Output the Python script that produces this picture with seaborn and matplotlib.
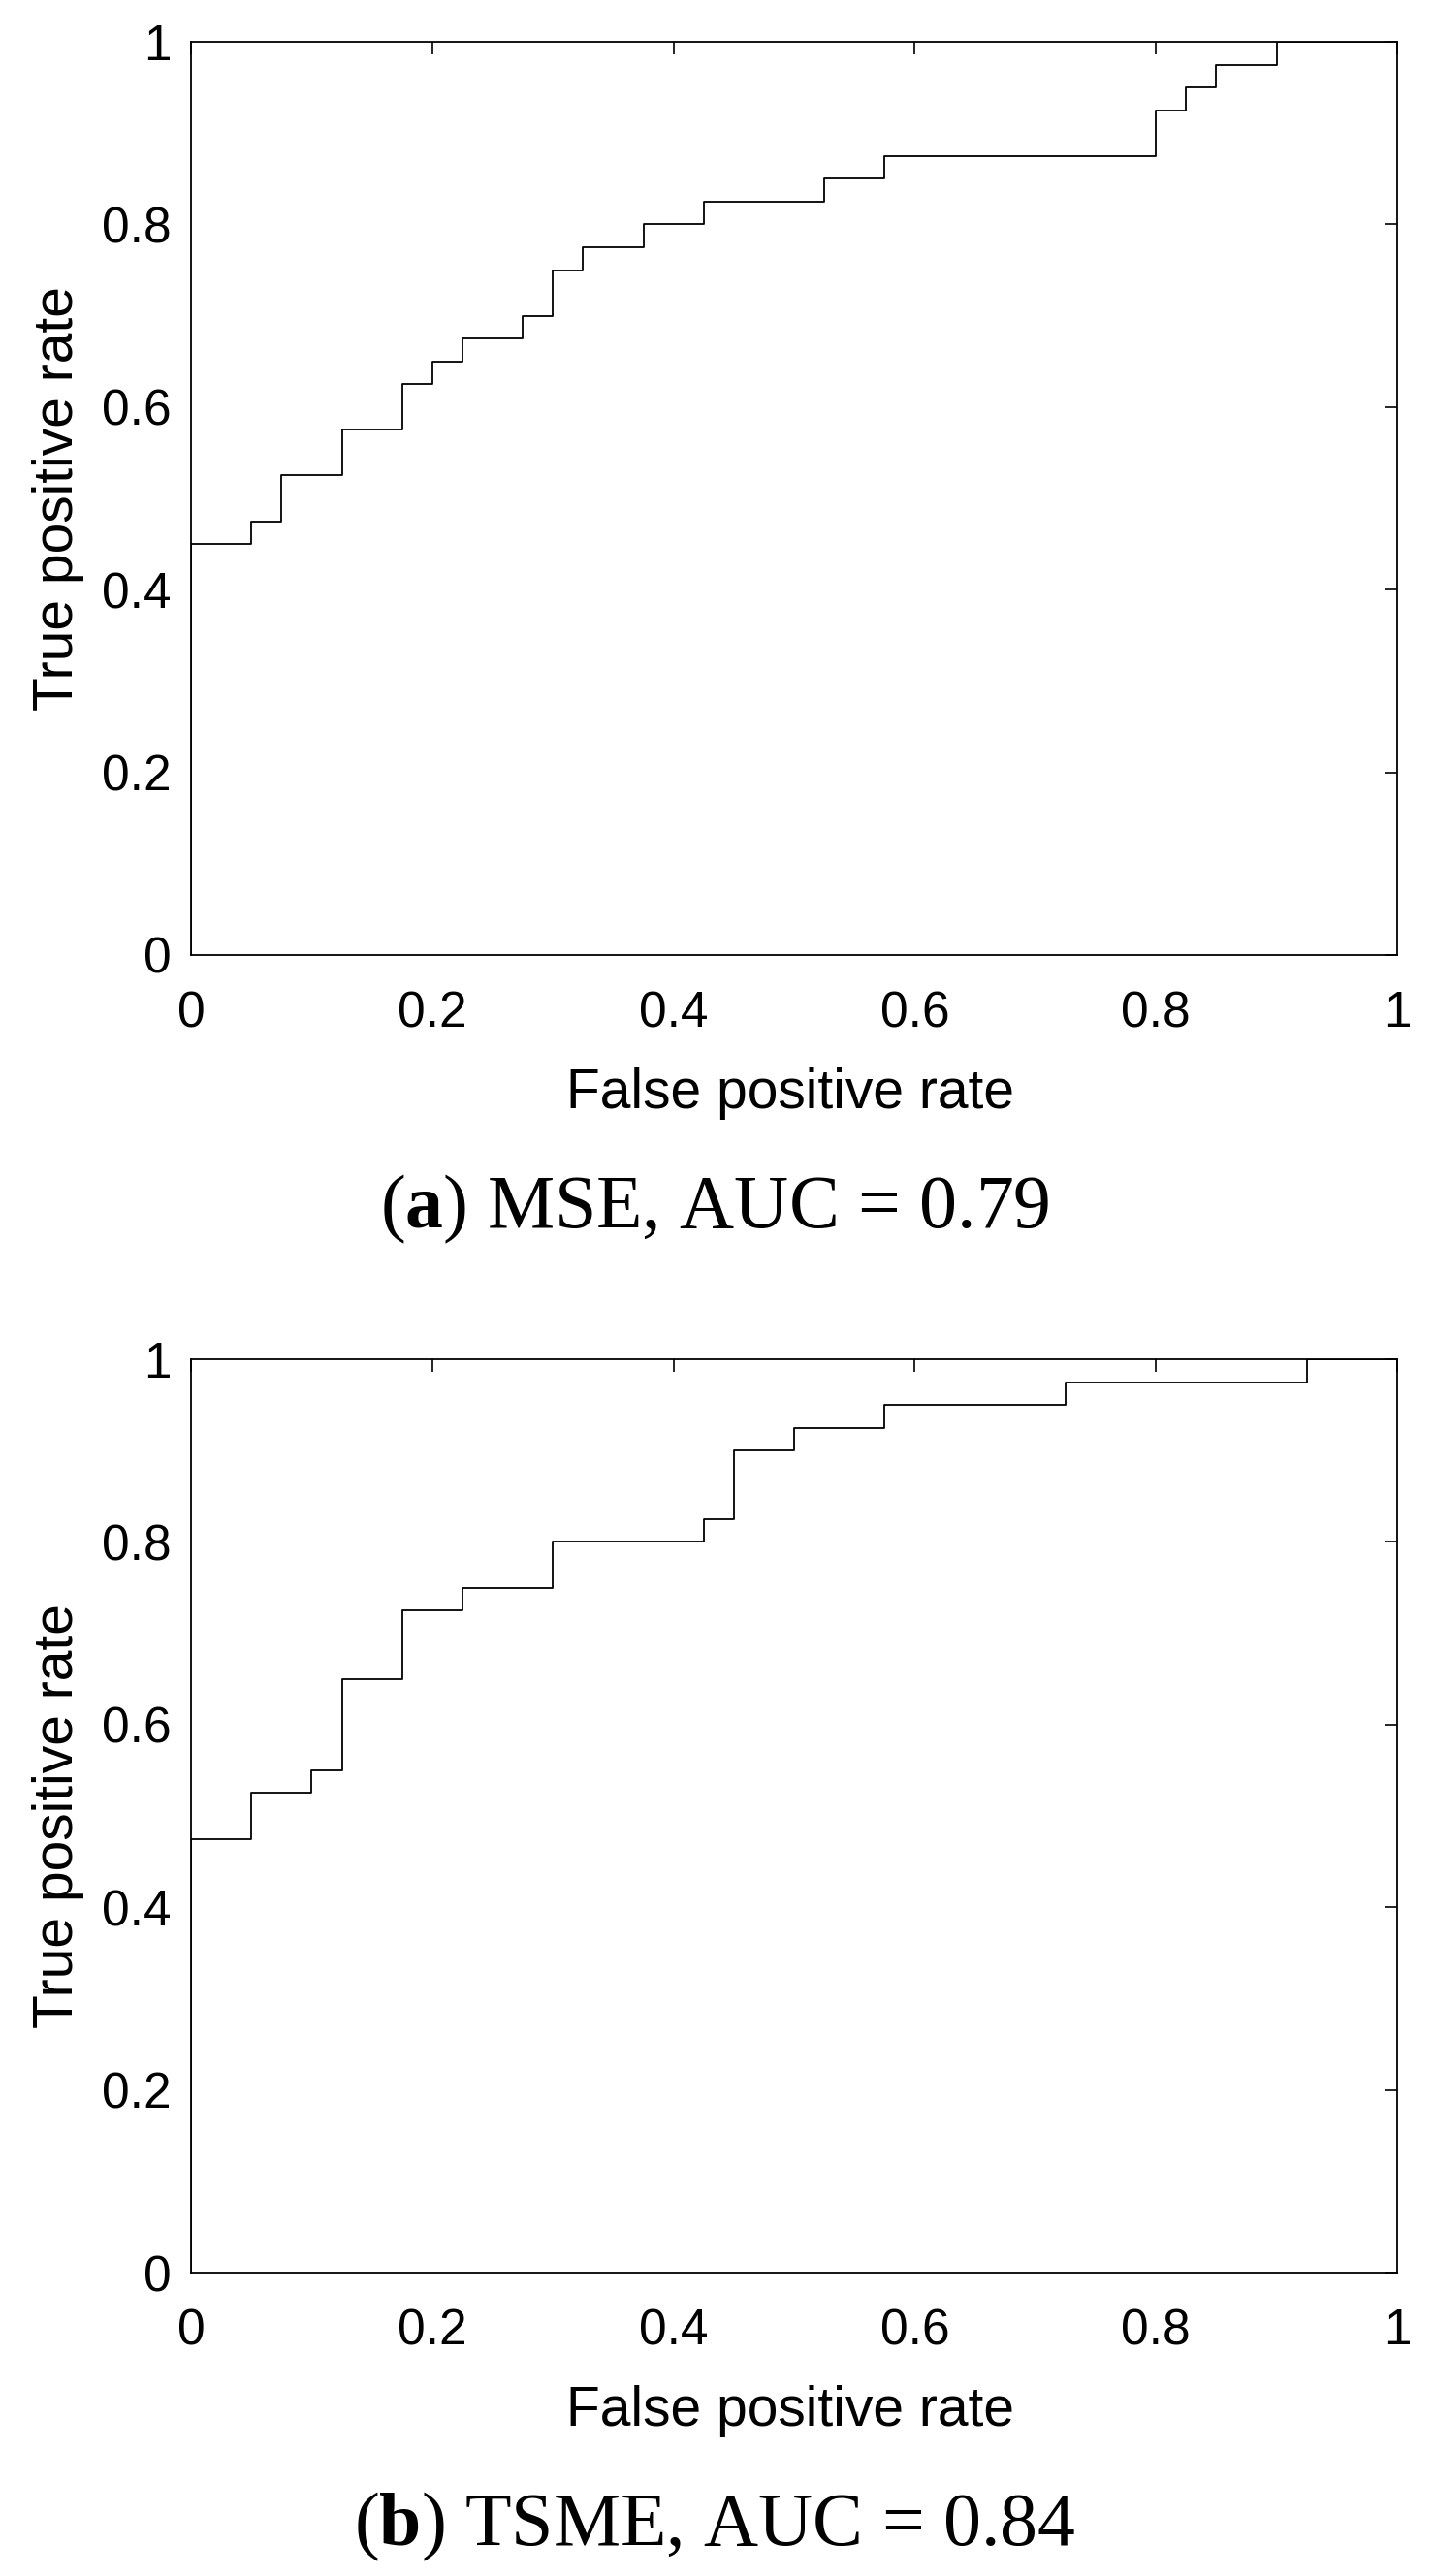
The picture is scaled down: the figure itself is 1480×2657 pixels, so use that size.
import pandas as pd
import matplotlib.pyplot as plt
import seaborn as sns

# ROC curve vertices (start of each horizontal step)
fpr_mse = [0, 0, 0.05, 0.075, 0.125, 0.175, 0.2, 0.225, 0.275, 0.3, 0.325,
           0.375, 0.425, 0.525, 0.575, 0.8, 0.825, 0.85, 0.9, 1.0]
tpr_mse = [0, 0.45, 0.475, 0.525, 0.575, 0.625, 0.65, 0.675, 0.7, 0.75, 0.775,
           0.8, 0.825, 0.85, 0.875, 0.925, 0.95, 0.975, 1.0, 1.0]

fpr_tsme = [0, 0, 0.05, 0.1, 0.125, 0.175, 0.225, 0.3, 0.425, 0.45, 0.5,
            0.575, 0.725, 0.925, 1.0]
tpr_tsme = [0, 0.475, 0.525, 0.55, 0.65, 0.725, 0.75, 0.8, 0.825, 0.9, 0.925,
            0.95, 0.975, 1.0, 1.0]

ticks = [0, 0.2, 0.4, 0.6, 0.8, 1]
tick_labels = ["0", "0.2", "0.4", "0.6", "0.8", "1"]

captions = [r"($\mathbf{a}$) MSE, AUC = 0.79", r"($\mathbf{b}$) TSME, AUC = 0.84"]

sns.set_style("white")
plt.rcParams["font.family"] = ["Liberation Sans", "DejaVu Sans"]
plt.rcParams["text.color"] = "black"
plt.rcParams["axes.labelcolor"] = "black"
plt.rcParams["xtick.color"] = "black"
plt.rcParams["ytick.color"] = "black"
plt.rcParams["mathtext.fontset"] = "custom"
plt.rcParams["mathtext.rm"] = "Liberation Serif"
plt.rcParams["mathtext.bf"] = "Liberation Serif:bold"

W, H = 1480, 2657
fig = plt.figure(figsize=(W / 100, H / 100), dpi=100)
fig.patch.set_facecolor("white")

panels = [
    (fpr_mse, tpr_mse, 985),
    (fpr_tsme, tpr_tsme, 2344),
]

for i, (fpr, tpr, ybot) in enumerate(panels):
    ax = fig.add_axes([197 / W, 1 - ybot / H, 1244 / W, 942 / H])
    df = pd.DataFrame({"fpr": fpr, "tpr": tpr})
    sns.lineplot(data=df, x="fpr", y="tpr", ax=ax, color="black",
                 linewidth=1.3, drawstyle="steps-post", estimator=None,
                 sort=False)
    ax.set_xlim(0, 1)
    ax.set_ylim(0, 1)
    ax.set_xticks(ticks)
    ax.set_xticklabels(tick_labels)
    ax.set_yticks(ticks)
    ax.set_yticklabels(tick_labels)
    for s in ax.spines.values():
        s.set_color("black")
        s.set_linewidth(1.3)
    ax.tick_params(axis="both", direction="in", length=9.5, width=1.2,
                   top=True, right=True, color="black", labelcolor="black",
                   labelsize=37)
    ax.tick_params(axis="x", pad=26)
    ax.tick_params(axis="y", pad=15)

    ax.set_xlabel("False positive rate", fontsize=41, va="baseline",
                  color="black")
    ax.set_ylabel("True positive rate", fontsize=41, va="baseline",
                  color="black")
    ax.xaxis.set_label_coords(0.497, -0.1677)
    ax.yaxis.set_label_coords(-0.0981, 0.5)

    fig.text(0.498, 1 - (ybot + 281) / H, captions[i], fontsize=56,
             family="Liberation Serif", ha="center", va="baseline",
             color="black")

plt.savefig("out.png", dpi=100)
plt.close()
